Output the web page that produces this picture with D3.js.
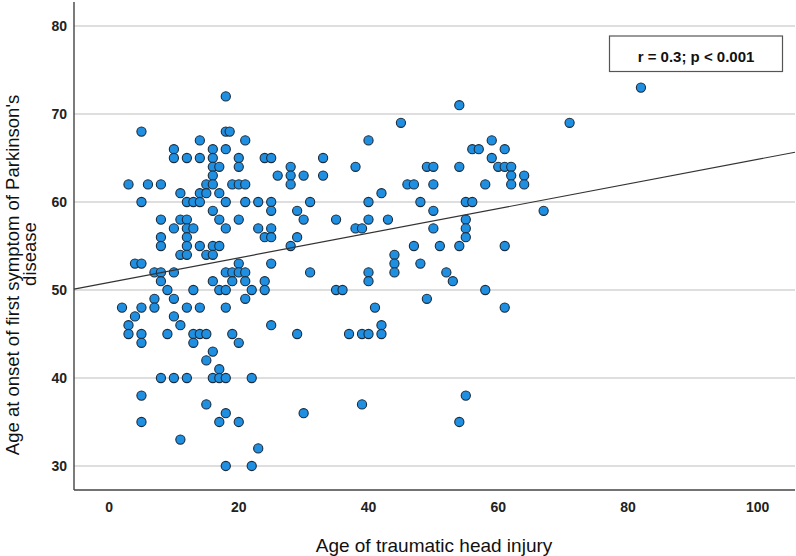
<!DOCTYPE html>
<html>
<head>
<meta charset="utf-8">
<script src="https://cdn.jsdelivr.net/npm/d3@7"></script>
<style>
  html, body { margin: 0; padding: 0; background: #fff; }
  svg { display: block; }
</style>
</head>
<body>
<svg id="chart" width="796" height="556"></svg>
<script>
// ---- data ----
// grouped by onset age: each entry = [onset age, injury ages...]
const onsetGroups = [
  [73, 82],
  [72, 18],
  [71, 54],
  [69, 45, 71],
  [68, 5, 18, 18.6],
  [67, 14, 21, 40, 59],
  [66, 10, 16, 18, 56, 57, 61],
  [65, 10, 12, 14, 16, 20, 24, 25, 33, 59],
  [64, 16, 17, 20, 28, 38, 49, 50, 54, 60, 61, 62],
  [63, 16, 26, 28, 30, 33, 62, 64],
  [62, 3, 6, 8, 15, 16, 19, 20, 21, 28, 46, 47, 50, 58, 62, 64],
  [61, 11, 14, 15, 17, 42],
  [60, 5, 12, 13, 14, 18, 21, 23, 25, 31, 40, 48, 55, 56],
  [59, 16, 25, 29, 50, 67],
  [58, 8, 11, 12, 17, 20, 30, 35, 40, 43, 55],
  [57, 10, 12, 13, 18, 23, 25, 38, 39, 50, 55],
  [56, 8, 12, 24, 25, 29, 55],
  [55, 8, 12, 14, 16, 17, 28, 47, 51, 54, 61],
  [54, 11, 12, 15, 16, 44],
  [53, 4, 5, 20, 25, 44, 48],
  [52, 7, 8, 10, 18, 19, 20, 21, 31, 40, 44, 52],
  [51, 8, 16, 19, 21, 24, 40, 53],
  [50, 9, 13, 17, 18, 22, 24, 35, 36, 58],
  [49, 7, 10, 21, 49],
  [48, 2, 5, 7, 12, 14, 18, 41, 61],
  [47, 4, 10],
  [46, 3, 11, 25, 42],
  [45, 3, 5, 9, 13, 14, 15, 19, 29, 37, 39, 40, 42],
  [44, 5, 13, 20],
  [43, 16],
  [42, 15],
  [41, 17],
  [40, 8, 10, 12, 16, 17, 18, 22],
  [38, 5, 55],
  [37, 15, 39],
  [36, 18, 30],
  [35, 5, 17, 20, 54],
  [33, 11],
  [32, 23],
  [30, 18, 22]
];
const yTicks = [30, 40, 50, 60, 70, 80];
const xTicks = [0, 20, 40, 60, 80, 100];
const fitIntercept = 50.85;
const fitSlope = 0.14;
const xTitle = "Age of traumatic head injury";
const yTitleLines = ["Age at onset of first symptom of Parkinson's", "disease"];
const statLabel = "r = 0.3; p < 0.001";

const points = [];
onsetGroups.forEach(g => {
  const onset = g[0];
  g.slice(1).forEach(inj => points.push({ injury: inj, onset: onset }));
});

// ---- drawing ----
const svg = d3.select("#chart");
const plot = { left: 74, right: 795, top: 2, bottom: 490 };

const x = d3.scaleLinear().domain([-5.4, 105.75]).range([plot.left, plot.right]);
const y = d3.scaleLinear().domain([27.27, 82.73]).range([plot.bottom, plot.top]);

// gridlines
svg.append("g").selectAll("line").data(yTicks).join("line")
  .attr("x1", plot.left).attr("x2", plot.right)
  .attr("y1", d => y(d)).attr("y2", d => y(d))
  .attr("stroke", "#d3d3d3").attr("stroke-width", 1.6);

// axis lines
svg.append("line")
  .attr("x1", plot.left).attr("x2", plot.left)
  .attr("y1", plot.top).attr("y2", plot.bottom)
  .attr("stroke", "#444").attr("stroke-width", 1.4);
svg.append("line")
  .attr("x1", plot.left).attr("x2", plot.right)
  .attr("y1", plot.bottom).attr("y2", plot.bottom)
  .attr("stroke", "#444").attr("stroke-width", 1.4);

const font = "'Liberation Sans', Arial, sans-serif";

// y tick labels
svg.append("g").selectAll("text").data(yTicks).join("text")
  .attr("x", 67).attr("y", d => y(d))
  .attr("text-anchor", "end").attr("dominant-baseline", "central")
  .attr("font-family", font).attr("font-weight", "bold").attr("font-size", 14)
  .attr("fill", "#222")
  .text(d => d);

// x tick labels
svg.append("g").selectAll("text").data(xTicks).join("text")
  .attr("x", d => x(d)).attr("y", 507)
  .attr("text-anchor", "middle").attr("dominant-baseline", "central")
  .attr("font-family", font).attr("font-weight", "bold").attr("font-size", 14)
  .attr("fill", "#222")
  .text(d => d);

// axis titles
svg.append("text")
  .attr("x", 434).attr("y", 545)
  .attr("text-anchor", "middle").attr("dominant-baseline", "central")
  .attr("font-family", font).attr("font-size", 19).attr("fill", "#111")
  .text(xTitle);

const yTitle = svg.append("g").attr("transform", "translate(0,0)");
yTitle.append("text")
  .attr("transform", "translate(12,275) rotate(-90)")
  .attr("text-anchor", "middle").attr("dominant-baseline", "central")
  .attr("font-family", font).attr("font-size", 18.5).attr("fill", "#111")
  .text(yTitleLines[0]);
yTitle.append("text")
  .attr("transform", "translate(29,254) rotate(-90)")
  .attr("text-anchor", "middle").attr("dominant-baseline", "central")
  .attr("font-family", font).attr("font-size", 18.5).attr("fill", "#111")
  .text(yTitleLines[1]);

// points
svg.append("g").selectAll("circle").data(points).join("circle")
  .attr("cx", d => x(d.injury)).attr("cy", d => y(d.onset))
  .attr("r", 4.6)
  .attr("fill", "#1f8fe1")
  .attr("stroke", "#1c2c3c").attr("stroke-width", 1.1);

// fit line
const xd = x.domain();
svg.append("line")
  .attr("x1", x(xd[0])).attr("y1", y(fitIntercept + fitSlope * xd[0]))
  .attr("x2", x(xd[1])).attr("y2", y(fitIntercept + fitSlope * xd[1]))
  .attr("stroke", "#333").attr("stroke-width", 1.2);

// annotation box
svg.append("rect")
  .attr("x", 609.5).attr("y", 36).attr("width", 173).attr("height", 35.5)
  .attr("fill", "#fff").attr("stroke", "#555").attr("stroke-width", 1.2);
svg.append("text")
  .attr("x", 696).attr("y", 62)
  .attr("text-anchor", "middle")
  .attr("font-family", font).attr("font-weight", "bold").attr("font-size", 15)
  .attr("fill", "#111")
  .text(statLabel);
</script>
</body>
</html>
